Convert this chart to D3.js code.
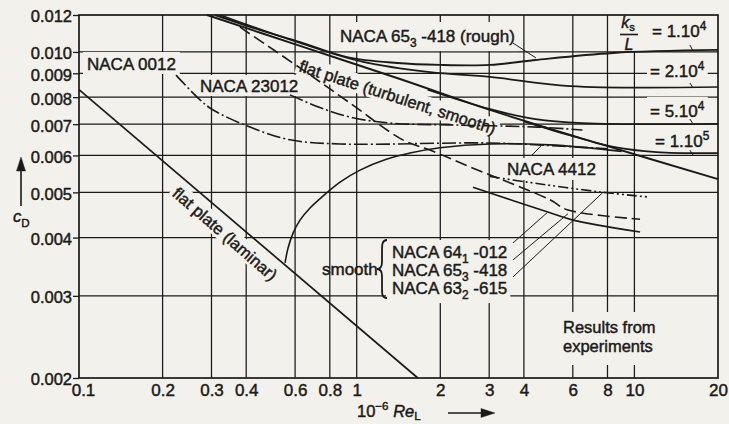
<!DOCTYPE html>
<html>
<head>
<meta charset="utf-8">
<script src="https://cdn.jsdelivr.net/npm/d3@7"></script>
<style>
  html, body { margin: 0; padding: 0; background: #f3f1eb; }
  svg { display: block; }
</style>
</head>
<body>
<svg id="chart" width="729" height="424"></svg>
<script>
// ---- axis ticks ----
const xTicks = [0.1, 0.2, 0.3, 0.4, 0.6, 0.8, 1, 2, 3, 4, 6, 8, 10, 20];
const xGrid  = [0.2, 0.3, 0.4, 0.6, 0.8, 1, 2, 3, 4, 6, 8, 10];
const yTicks = [0.002, 0.003, 0.004, 0.005, 0.006, 0.007, 0.008, 0.009, 0.010, 0.012];
const yGrid  = [0.003, 0.004, 0.005, 0.006, 0.007, 0.008, 0.009, 0.010];

// ---- curves: [Re * 1e-6, cD] ----
const laminarPlate   = [[0.1, 0.0083], [1.66, 0.002]];
const turbulentPlate = [[0.289, 0.0120], [0.625, 0.0103], [1.432, 0.00875], [3.02, 0.00751], [7.52, 0.00635], [20, 0.00534]];
const rough65_418    = [[0.309, 0.0120], [0.449, 0.01114], [0.625, 0.0105], [0.923, 0.00975], [1.397, 0.00947], [1.995, 0.00938], [3.02, 0.00938], [4.387, 0.00961], [8.374, 0.00995], [20, 0.0101]];
const roughKs2e4     = [[0.322, 0.0120], [0.625, 0.01045], [1.054, 0.00952], [1.837, 0.00905], [3.02, 0.00884], [5.864, 0.00845], [20, 0.00841]];
const roughKs5e4     = [[1.8, 0.0083], [3.0, 0.00755], [4.4, 0.00718], [6.5, 0.00704], [20, 0.00701]];
const roughKs1e5     = [[4.0, 0.0071], [6.0, 0.0066], [8.5, 0.00625], [12, 0.0061], [20, 0.00607]];
const naca0012       = [[0.2235, 0.00892], [0.273, 0.00789], [0.304, 0.00751], [0.413, 0.0069], [0.575, 0.00648], [0.871, 0.00635], [3.02, 0.00638], [5.5, 0.00628], [8.0, 0.0062]];
const naca23012      = [[0.575, 0.00809], [0.737, 0.0076], [0.946, 0.00725], [1.318, 0.00704], [2.297, 0.00697], [4.5, 0.0069], [6.5, 0.0068]];
const naca4412       = [[0.552, 0.00353], [0.566, 0.0038], [0.59, 0.00409], [0.625, 0.00436], [0.679, 0.00463], [0.75, 0.00489], [0.871, 0.00526], [1.028, 0.00558], [1.264, 0.00587], [1.556, 0.00607], [1.995, 0.00623], [3.02, 0.00635], [4.97, 0.00632], [9.0, 0.00612]];
const smooth65_418   = [[0.38, 0.0113], [0.625, 0.00924], [0.946, 0.00777], [1.465, 0.00648], [1.837, 0.00616], [2.559, 0.00567], [4.967, 0.00482], [5.72, 0.00459], [10.48, 0.00438]];
const smooth63_615   = [[2.623, 0.00513], [4.967, 0.00452], [6.011, 0.00436], [10.48, 0.00411]];
const smooth64_012   = [[3.02, 0.00541], [4.106, 0.00526], [7.518, 0.00501], [11.1, 0.00489]];

// ---- leader lines, [Re * 1e-6, cD] ----
const leaders = [
  [[3.654, 0.01045], [4.42, 0.00971]],
  [[15.84, 0.01035], [16.26, 0.01005]],
  [[15.84, 0.00858], [16.26, 0.00837]],
  [[15.84, 0.00718], [16.26, 0.00701]],
  [[15.84, 0.00616], [16.26, 0.00601]],
  [[4.279, 0.00601], [4.648, 0.00632]],
  [[3.654, 0.003895], [4.845, 0.00452]],
  [[3.654, 0.003582], [5.768, 0.0045]],
  [[3.654, 0.003294], [7.707, 0.0050]]
];

const W = 729, H = 424;
const ink = '#1a1a1a', paper = '#f3f1eb';
const FONT = '"Liberation Sans", Arial, Helvetica, sans-serif';

const svg = d3.select('#chart');
const x = d3.scaleLog().domain([0.1, 20]).range([79, 718]);
const y = d3.scaleLog().domain([0.002, 0.012]).range([378, 15]);

svg.append('rect').attr('width', W).attr('height', H).attr('fill', paper);
const gGrid  = svg.append('g');
const gBox   = svg.append('g');
const gLines = svg.append('g');
const gText  = svg.append('g').attr('font-family', FONT).attr('fill', ink)
  .attr('stroke', ink).attr('stroke-width', 0.45);

// grid
gGrid.selectAll('line.vg').data(xGrid).join('line').attr('class', 'vg')
  .attr('x1', d => x(d)).attr('x2', d => x(d))
  .attr('y1', y(0.012)).attr('y2', y(0.002))
  .attr('stroke', ink).attr('stroke-width', 1.25);
gGrid.selectAll('line.hg').data(yGrid).join('line').attr('class', 'hg')
  .attr('y1', d => y(d)).attr('y2', d => y(d))
  .attr('x1', x(0.1)).attr('x2', x(20))
  .attr('stroke', ink).attr('stroke-width', 1.25);

// frame
gLines.append('rect')
  .attr('x', x(0.1)).attr('y', y(0.012))
  .attr('width', x(20) - x(0.1)).attr('height', y(0.002) - y(0.012))
  .attr('fill', 'none').attr('stroke', ink).attr('stroke-width', 1.7);

// axes
const yAxis = d3.axisLeft(y).tickValues(yTicks).tickFormat(d3.format('.3f')).tickSize(6).tickPadding(1);
gText.append('g').attr('transform', `translate(${x(0.1)},0)`).call(yAxis)
  .attr('font-family', FONT).attr('font-size', 16.5)
  .call(g => g.select('.domain').remove())
  .call(g => g.selectAll('.tick line').attr('stroke', ink).attr('stroke-width', 1.3))
  .call(g => g.selectAll('.tick text').attr('fill', ink).attr('dy', '0.42em'));

const xAxis = d3.axisBottom(x).tickValues(xTicks).tickFormat(d3.format('~g')).tickSize(0).tickPadding(0);
gText.append('g').attr('transform', `translate(0,${y(0.002)})`).call(xAxis)
  .attr('font-family', FONT).attr('font-size', 17)
  .call(g => g.select('.domain').remove())
  .call(g => g.selectAll('.tick text').attr('fill', ink).attr('y', 18).attr('dy', null)
    .attr('dx', d => d === 0.1 ? 4 : 0));

// curves
const line = d3.line().x(d => x(d[0])).y(d => y(d[1])).curve(d3.curveCatmullRom.alpha(0.5));
const series = [
  { pts: laminarPlate,   dash: null,           w: 1.7 },
  { pts: turbulentPlate, dash: null,           w: 1.9 },
  { pts: rough65_418,    dash: null,           w: 1.9 },
  { pts: roughKs2e4,     dash: null,           w: 1.7 },
  { pts: roughKs5e4,     dash: null,           w: 1.7 },
  { pts: roughKs1e5,     dash: null,           w: 1.7 },
  { pts: naca0012,       dash: '14 3 2 3',     w: 1.6 },
  { pts: naca23012,      dash: '14 3 2 3',     w: 1.6 },
  { pts: naca4412,       dash: null,           w: 1.6 },
  { pts: smooth65_418,   dash: '12 5',         w: 1.6 },
  { pts: smooth63_615,   dash: null,           w: 1.6 },
  { pts: smooth64_012,   dash: '10 3 2 3 2 3', w: 1.6 }
];
gLines.selectAll('path.curve').data(series).join('path').attr('class', 'curve')
  .attr('d', d => line(d.pts))
  .attr('fill', 'none').attr('stroke', ink)
  .attr('stroke-width', d => d.w)
  .attr('stroke-dasharray', d => d.dash);

gLines.selectAll('line.leader').data(leaders).join('line').attr('class', 'leader')
  .attr('x1', d => x(d[0][0])).attr('y1', d => y(d[0][1]))
  .attr('x2', d => x(d[1][0])).attr('y2', d => y(d[1][1]))
  .attr('stroke', ink).attr('stroke-width', 1);

// rich text with sub/superscripts and italics
function rich(g, segs, size) {
  const t = g.append('text').attr('font-size', size);
  let off = 0;
  segs.forEach(s => {
    const sp = t.append('tspan').text(s.t);
    let target = 0, fs = size;
    if (s.sub) { target = size * (s.shift || 0.3); fs = size * 0.7; }
    if (s.sup) { target = -size * 0.42; fs = size * 0.7; }
    sp.attr('font-size', fs);
    if (target !== off) { sp.attr('dy', target - off); off = target; }
    if (s.it) sp.attr('font-style', 'italic');
  });
  return t;
}

function label(c) {
  const tr = `translate(${c.x},${c.y})` + (c.rot ? ` rotate(${c.rot})` : '');
  const gt = gText.append('g').attr('transform', tr);
  const t = rich(gt, c.segs, c.size || 17).attr('text-anchor', c.anchor || 'start');
  if (c.dy) t.attr('dy', c.dy);
  if (c.box !== false) {
    const b = t.node().getBBox();
    const [pt, pr, pb, pl] = c.pad || [2, 3, 0, 3];
    gBox.append('g').attr('transform', tr).append('rect')
      .attr('x', b.x - pl).attr('y', b.y - pt)
      .attr('width', b.width + pl + pr).attr('height', b.height + pt + pb)
      .attr('fill', paper);
  }
  return t;
}

const T = s => ({ t: s });
label({ x: 87, y: 70, segs: [T('NACA 0012')], pad: [3, 4, 0, 4] });
label({ x: 200, y: 92, segs: [T('NACA 23012')], pad: [2, 4, 0, 4] });
label({ x: 340, y: 42, segs: [T('NACA 65'), { t: '3', sub: true }, T(' -418 (rough)')], pad: [5, 4, 1, 4] });
label({ x: 298, y: 71, rot: 18, segs: [T('flat plate (turbulent, smooth)')], size: 16.5, pad: [1, 3, 0, 3] });
label({ x: 225, y: 234, rot: 41, anchor: 'middle', dy: '0.35em', segs: [T('flat plate (laminar)')], size: 16.5, pad: [1, 3, 0, 3] });
label({ x: 507, y: 175, segs: [T('NACA 4412')], pad: [2, 4, 1, 4] });
label({ x: 322, y: 275, segs: [T('smooth')], box: false });
label({ x: 392, y: 258, segs: [T('NACA 64'), { t: '1', sub: true }, T(' -012')], pad: [3, 3, 0, 6] });
label({ x: 392, y: 276, segs: [T('NACA 65'), { t: '3', sub: true }, T(' -418')], pad: [2, 3, 0, 6] });
label({ x: 392, y: 294, segs: [T('NACA 63'), { t: '2', sub: true }, T(' -615')], pad: [2, 3, 1, 6] });
label({ x: 563, y: 333, segs: [T('Results from')], size: 16.5, pad: [6, 8, 2, 8] });
label({ x: 563, y: 352, segs: [T('experiments')], size: 16.5, pad: [2, 12, 10, 8] });

// roughness labels: k_s over L
gBox.append('rect').attr('x', 617).attr('y', 15).attr('width', 24).attr('height', 36).attr('fill', paper);
label({ x: 628, y: 28, anchor: 'middle', segs: [{ t: 'k', it: true }, { t: 's', sub: true, shift: 0.2 }], box: false, size: 16 });
gText.append('line').attr('x1', 620).attr('x2', 638).attr('y1', 34.5).attr('y2', 34.5).attr('stroke-width', 1.6);
label({ x: 629, y: 50, anchor: 'middle', segs: [{ t: 'L', it: true }], box: false, size: 16 });
label({ x: 652, y: 37, segs: [T('= 1.10'), { t: '4', sup: true }], pad: [2, 3, 0, 3] });
label({ x: 650, y: 77, segs: [T('= 2.10'), { t: '4', sup: true }], pad: [2, 3, 0, 3] });
label({ x: 650, y: 117, segs: [T('= 5.10'), { t: '4', sup: true }], pad: [2, 3, 0, 3] });
label({ x: 655, y: 147, segs: [T('= 1.10'), { t: '5', sup: true }], pad: [2, 3, 0, 3] });

// brace for the smooth sections
gLines.append('path')
  .attr('d', 'M387,240 C382,240 382,245 382,251 L382,262 C382,267 380,269 377,269 C380,269 382,271 382,276 L382,288 C382,294 382,298 387,298')
  .attr('fill', 'none').attr('stroke', ink).attr('stroke-width', 1.8);

// axis titles with arrows
label({ x: 357, y: 417, segs: [T('10'), { t: '\u22126', sup: true }, T(' '), { t: 'Re', it: true }, { t: 'L', sub: true, shift: 0.2 }], box: false, size: 16.5 });
gText.append('line').attr('x1', 448).attr('x2', 483).attr('y1', 413).attr('y2', 413).attr('stroke-width', 1.6);
gText.append('path').attr('d', 'M481,408.5 L495,413 L481,417.5 Z').attr('fill', ink);

label({ x: 13, y: 222, segs: [{ t: 'c', it: true }, { t: 'D', sub: true }], box: false, size: 16.5 });
gText.append('line').attr('x1', 21).attr('x2', 21).attr('y1', 206).attr('y2', 168).attr('stroke-width', 1.6);
gText.append('path').attr('d', 'M16.5,171 L21,157 L25.5,171 Z').attr('fill', ink);
</script>
</body>
</html>
